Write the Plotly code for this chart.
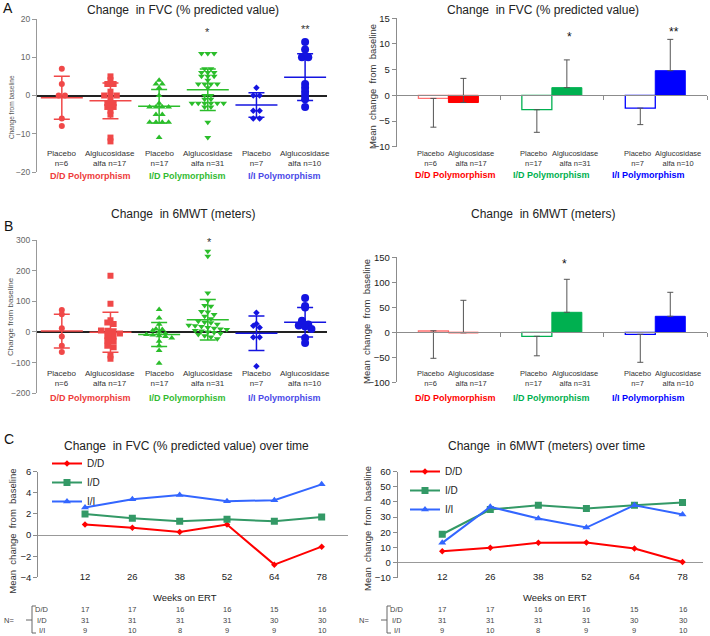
import plotly.graph_objects as go

W, H = 710, 636


def fx(p):
    return p / W


def fy(p):
    return 1 - p / H


# ---- data ----
groups = ['D/D', 'I/D', 'I/I']
group_labels = ['D/D Polymorphism', 'I/D Polymorphism', 'I/I Polymorphism']
arm_labels = ['Placebo<br>n=6', 'Alglucosidase<br>alfa n=17',
              'Placebo<br>n=17', 'Alglucosidase<br>alfa n=31',
              'Placebo<br>n=7', 'Alglucosidase<br>alfa n=10']

# FVC (% predicted) change per patient, panel A
fvc_pla_dd = [7, 3, 0, 0, -6, -8]
fvc_alg_dd = [5, 4, 3, 3, 1, 0, 0, 0, -1, -2, -2, -3, -3, -4, -5, -11, -12]
fvc_pla_id = [4, 3, 3, 2, 0, -2, -3, -3, -3, -3, -5, -5, -7, -7, -7, -7, -11]
fvc_alg_id = [11, 11, 11, 7, 7, 6, 6, 6, 5, 5, 5, 4, 3, 3, 3, 3, 2, 0, 0,
              -1, -1, -2, -2, -2, -2, -2, -2, -3, -3, -7, -11]
fvc_pla_ii = [2, 0, 0, -4, -4, -6, -6]
fvc_alg_ii = [14, 12, 10, 10, 3, 2, 1, 0, -1, -3]
fvc_mean = [-0.6, -1.4, -2.8, 1.5, -2.5, 4.8]
fvc_sd = [5.6, 4.7, 4.4, 5.4, 3.2, 6.1]

# 6MWT (meters) change per patient, panel B
mwt_pla_dd = [72, 58, 12, -15, -45, -65]
mwt_alg_dd = [183, 92, 38, 31, 26, 5, 4, 2, -5, -12, -15, -28, -30, -45, -50, -77, -87]
mwt_pla_id = [73, 46, 25, 10, 8, 5, 0, -5, -8, -10, -12, -15, -20, -30, -45, -60, -102]
mwt_alg_id = [263, 247, 127, 103, 86, 84, 67, 65, 57, 51, 43, 35, 32, 30, 25, 22,
              20, 18, 15, 12, 10, 8, 5, 3, 0, -2, -5, -8, -12, -16, -22]
mwt_pla_ii = [63, 27, 20, 15, -17, -17, -112]
mwt_alg_ii = [111, 85, 80, 37, 24, 21, 18, 10, -20, -36]
mwt_mean = [3, -1, -8, 40, -4, 32]
mwt_sd = [55, 65, 39, 66, 56, 48]

# panel C
weeks = ['12', '26', '38', '52', '64', '78']
fvc_t_dd = [1.0, 0.7, 0.3, 1.0, -2.8, -1.1]
fvc_t_id = [2.0, 1.6, 1.3, 1.5, 1.3, 1.7]
fvc_t_ii = [2.6, 3.4, 3.8, 3.2, 3.3, 4.8]
mwt_t_dd = [7.5, 9.7, 13.0, 13.2, 9.3, 0.4]
mwt_t_id = [18.7, 35.0, 37.9, 35.7, 37.9, 39.6]
mwt_t_ii = [13.0, 36.8, 29.1, 23.1, 37.9, 31.7]
n_dd = [17, 17, 16, 16, 15, 16]
n_id = [31, 31, 31, 31, 30, 30]
n_ii = [9, 10, 8, 9, 9, 10]

# ---- styles ----
FONT = 'Liberation Sans, Arial, sans-serif'
sc_col = ['#f04848', '#f04848', '#2bbd2b', '#2bbd2b', '#1414e0', '#1414e0']
sc_sym = ['circle', 'square', 'triangle-up', 'triangle-down', 'diamond', 'circle']
sc_size = [6, 6, 6, 6, 5, 8]
grp_col_sc = ['#ee3b3b', '#33bb33', '#4a4ae8']
bar_fill = ['#ff0000', '#00b050', '#0000ff']
bar_line_pla = ['#ff7070', '#00b050', '#0000ff']
line_col = {'D/D': '#ff0000', 'I/D': '#339966', 'I/I': '#3366ff'}
line_sym = {'D/D': 'diamond', 'I/D': 'square', 'I/I': 'triangle-up'}
line_msize = {'D/D': 5, 'I/D': 7, 'I/I': 7}


def swarm(vals, binsize, step):
    xs = [0.0] * len(vals)
    bins = {}
    for i, v in enumerate(vals):
        bins.setdefault(round(v / binsize), []).append(i)
    for idx in bins.values():
        n = len(idx)
        for k, i in enumerate(idx):
            xs[i] = (k - (n - 1) / 2) * step
    return xs


fig = go.Figure()


def add_scatter(arms, means, sds, binsize, xa, ya):
    for i, vals in enumerate(arms):
        offs = swarm(vals, binsize, 0.13)
        fig.add_trace(go.Scatter(
            x=[i + 1 + o for o in offs], y=vals, mode='markers', xaxis=xa, yaxis=ya,
            marker=dict(symbol=sc_sym[i], size=sc_size[i], color=sc_col[i], line=dict(width=0)),
            showlegend=False, hoverinfo='y'))
        fig.add_trace(go.Scatter(
            x=[i + 1], y=[means[i]], mode='markers', xaxis=xa, yaxis=ya,
            marker=dict(symbol='line-ew', size=30, color=sc_col[i],
                        line=dict(width=1.5, color=sc_col[i])),
            error_y=dict(type='data', array=[sds[i]], color=sc_col[i], thickness=1.5, width=8),
            showlegend=False, hoverinfo='y'))


def add_bars(means, sds, xa, ya):
    fig.add_trace(go.Bar(
        x=groups, y=means[0::2], xaxis=xa, yaxis=ya, name='Placebo',
        marker=dict(color='white', line=dict(color=bar_line_pla, width=1.3)),
        error_y=dict(type='data', symmetric=False, array=[0, 0, 0], arrayminus=sds[0::2],
                     color='#555555', thickness=1, width=3),
        showlegend=False))
    fig.add_trace(go.Bar(
        x=groups, y=means[1::2], xaxis=xa, yaxis=ya, name='Alglucosidase alfa',
        marker=dict(color=bar_fill, line=dict(color=bar_fill, width=1)),
        error_y=dict(type='data', symmetric=False, array=sds[1::2], arrayminus=[0, 0, 0],
                     color='#555555', thickness=1, width=3),
        showlegend=False))


def add_lines(dd, iid, ii, xa, ya, legend):
    for name, vals in (('D/D', dd), ('I/D', iid), ('I/I', ii)):
        fig.add_trace(go.Scatter(
            x=weeks, y=vals, name=name, mode='lines+markers', xaxis=xa, yaxis=ya,
            line=dict(color=line_col[name], width=2),
            marker=dict(symbol=line_sym[name], size=line_msize[name], color=line_col[name]),
            legend=legend))


add_scatter([fvc_pla_dd, fvc_alg_dd, fvc_pla_id, fvc_alg_id, fvc_pla_ii, fvc_alg_ii],
            fvc_mean, fvc_sd, 1, 'x', 'y')
add_bars(fvc_mean, fvc_sd, 'x2', 'y2')
add_scatter([mwt_pla_dd, mwt_alg_dd, mwt_pla_id, mwt_alg_id, mwt_pla_ii, mwt_alg_ii],
            mwt_mean, mwt_sd, 15, 'x3', 'y3')
add_bars(mwt_mean, mwt_sd, 'x4', 'y4')
add_lines(fvc_t_dd, fvc_t_id, fvc_t_ii, 'x5', 'y5', 'legend')
add_lines(mwt_t_dd, mwt_t_id, mwt_t_ii, 'x6', 'y6', 'legend2')

# ---- axes ----
def zero_pos(rng, dom):
    return dom[0] + (0 - rng[0]) / (rng[1] - rng[0]) * (dom[1] - dom[0])


sc_x = [0.49, 6.45]
dom = {
    1: ([fx(37), fx(327)], [fy(172), fy(19)], [-20, 20], 10),
    2: ([fx(396.7), fx(707)], [fy(146.7), fy(18.3)], [-10, 15], 5),
    3: ([fx(37), fx(327)], [fy(393.3), fy(240)], [-200, 300], 100),
    4: ([fx(396.7), fx(707)], [fy(382.3), fy(257.3)], [-100, 150], 50),
    5: ([fx(38.3), fx(347.7)], [fy(577.3), fy(471.7)], [-4, 6], 2),
    6: ([fx(397.7), fx(702.7)], [fy(577.7), fy(471.7)], [-10, 60], 10),
}
layout_axes = {}
for k, (xd, yd, yr, dt) in dom.items():
    xn = 'xaxis' if k == 1 else 'xaxis%d' % k
    yn = 'yaxis' if k == 1 else 'yaxis%d' % k
    xref = 'x' if k == 1 else 'x%d' % k
    if k in (1, 3):
        layout_axes[xn] = dict(domain=xd, range=sc_x, visible=False, automargin=False,
                               anchor='y' if k == 1 else 'y3')
        layout_axes[yn] = dict(domain=yd, range=yr, dtick=dt, anchor=xref, showline=True,
                               linecolor='#999999', ticks='outside', ticklen=4, tickcolor='#999999',
                               tickfont=dict(size=8.5, color='#666666'), showgrid=False,
                               zeroline=True, zerolinecolor='#222222', zerolinewidth=1.5,
                               automargin=False)
    elif k in (2, 4):
        layout_axes[xn] = dict(domain=xd, type='category', categoryarray=groups, range=[-0.5, 2.5],
                               anchor='free', position=zero_pos(yr, yd), showline=True,
                               linecolor='#8c8c8c', ticks='outside', tickson='boundaries',
                               ticklen=4, tickcolor='#8c8c8c', showticklabels=False, showgrid=False,
                               automargin=False)
        layout_axes[yn] = dict(domain=yd, range=yr, dtick=dt, anchor=xref, showline=True,
                               linecolor='#8c8c8c', ticks='outside', ticklen=4, tickcolor='#8c8c8c',
                               tickfont=dict(size=9.5, color='#222222'), showgrid=False,
                               zeroline=False, automargin=False)
    else:
        xr = [-0.987, 5.55] if k == 5 else [-0.927, 5.42]
        layout_axes[xn] = dict(domain=xd, type='category', categoryarray=weeks, range=xr,
                               anchor='free', position=fy(569), showline=False, ticks='',
                               tickfont=dict(size=9.5, color='#222222'), showgrid=False,
                               automargin=False)
        layout_axes[yn] = dict(domain=yd, range=yr, dtick=dt, anchor=xref, showline=True,
                               linecolor='#8c8c8c', ticks='outside', ticklen=4, tickcolor='#8c8c8c',
                               tickfont=dict(size=9.5, color='#222222'), showgrid=False,
                               zeroline=True, zerolinecolor='#999999', zerolinewidth=1,
                               automargin=False)

# ---- annotations ----
ann = []


def text(x, y, t, size, color='#222222', xref='paper', angle=0, bold=False, xshift=0):
    if bold:
        t = '<b>%s</b>' % t
    ann.append(dict(x=x, y=y, xref=xref, yref='paper', text=t, showarrow=False,
                    font=dict(size=size, color=color, family=FONT), textangle=angle,
                    xanchor='center', yanchor='middle', xshift=xshift))


# panel letters
text(fx(8), fy(8), 'A', 14, '#111111')
text(fx(8), fy(226), 'B', 14, '#111111')
text(fx(9), fy(439), 'C', 14, '#111111')

# titles
text(fx(183.3), fy(9.5), 'Change  in FVC (% predicted value)', 12)
text(fx(543.3), fy(10), 'Change  in FVC (% predicted value)', 12)
text(fx(183), fy(214), 'Change  in 6MWT (meters)', 12)
text(fx(543), fy(214), 'Change  in 6MWT (meters)', 12)
text(fx(186.7), fy(446), 'Change  in FVC (% predicted value) over time', 12)
text(fx(546.7), fy(446), 'Change  in 6MWT (meters) over time', 12)

# y titles
text(fx(12), fy(107), 'Change from baseline', 6.5, '#555555', angle=-90)
text(fx(372), fy(87), 'Mean  change  from  baseline', 9.5, '#333333', angle=-90)
text(fx(10), fy(317), 'Change from baseline', 8, '#555555', angle=-90)
text(fx(366), fy(322), 'Mean  change  from  baseline', 9.5, '#333333', angle=-90)
text(fx(13), fy(531.7), 'Mean  change  from  baseline', 9.5, '#333333', angle=-90)
text(fx(367), fy(529), 'Mean  change  from  baseline', 9.5, '#333333', angle=-90)

# arm / group labels
for xr, ylab, ygrp in (('x', 158.5, 175.7), ('x3', 378.7, 397.7)):
    for i, lab in enumerate(arm_labels):
        text(i + 1, fy(ylab), lab, 8, '#333333', xref=xr)
    for g, lab in enumerate(group_labels):
        text(2 * g + 1.5, fy(ygrp), lab, 9, grp_col_sc[g], xref=xr, bold=True, xshift=4)
for xr, ylab, ygrp in (('x2', 158.5, 175.5), ('x4', 378.7, 397.5)):
    for i, lab in enumerate(arm_labels):
        text(groups[i // 2], fy(ylab), lab, 7.5, '#333333', xref=xr,
             xshift=-18 if i % 2 == 0 else 23)
    for g, lab in enumerate(group_labels):
        text(groups[g], fy(ygrp), lab, 9, bar_fill[g], xref=xr, bold=True,
             xshift=[7, 0, -7][g])

# significance marks
text(4, fy(32), '*', 11, '#333333', xref='x')
text(6, fy(29), '**', 11, '#333333', xref='x')
text('I/D', fy(37), '*', 12, '#111111', xref='x2', xshift=18)
text('I/I', fy(32), '**', 12, '#111111', xref='x2', xshift=19)
text(4, fy(242), '*', 11, '#333333', xref='x3', xshift=2)
text('I/D', fy(264), '*', 12, '#111111', xref='x4', xshift=13)

# weeks + N table
shapes = []
for xr, x0, wx in (('x5', 0, 185), ('x6', 355, 555)):
    text(fx(wx), fy(597.7), 'Weeks on ERT', 9.5)
    text(fx(x0 + 9), fy(620), 'N=', 7.5, '#444444')
    for r, (lab, ns) in enumerate((('D/D', n_dd), ('I/D', n_id), ('I/I', n_ii))):
        yy = [609.5, 620, 630.5][r]
        text(fx(x0 + 42), fy(yy), lab, 7.5, '#444444')
        for j, n in enumerate(ns):
            text(j, fy(yy), str(n), 7.5, '#444444', xref=xr)
    bx = x0 + 32
    for (a, b, c, d) in ((bx, 606, bx, 633), (bx, 606, bx + 4, 606), (bx, 633, bx + 4, 633),
                         (bx - 6, 620, bx, 620)):
        shapes.append(dict(type='line', xref='paper', yref='paper', x0=fx(a), y0=fy(b),
                           x1=fx(c), y1=fy(d), line=dict(color='#666666', width=1)))

fig.update_layout(
    width=W, height=H, margin=dict(l=0, r=0, t=0, b=0, autoexpand=False),
    paper_bgcolor='white', plot_bgcolor='white',
    font=dict(family=FONT, size=10, color='#222222'),
    barmode='group', bargap=0.42, bargroupgap=0,
    annotations=ann, shapes=shapes,
    legend=dict(x=fx(47), y=fy(449), xanchor='left', yanchor='top', bgcolor='rgba(0,0,0,0)',
                font=dict(size=10, color='#222222')),
    legend2=dict(x=fx(405), y=fy(457), xanchor='left', yanchor='top', bgcolor='rgba(0,0,0,0)',
                 font=dict(size=10, color='#222222')),
    **layout_axes)

# the page's default 8px body margin would shift the whole figure
fig.write_html('out.html', config={'displayModeBar': False},
               post_script="document.body.style.margin='0';")
